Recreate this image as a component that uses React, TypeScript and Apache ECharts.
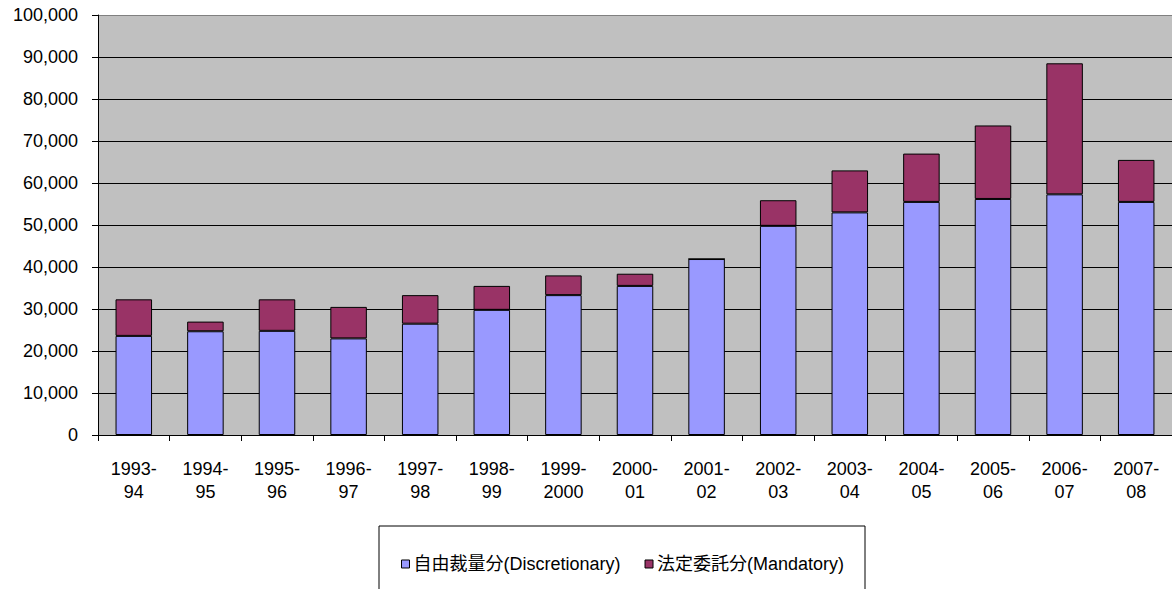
import React, { useEffect, useRef } from "react";
import * as echarts from "echarts";

const categories = [
  "1993-\n94", "1994-\n95", "1995-\n96", "1996-\n97", "1997-\n98", "1998-\n99",
  "1999-\n2000", "2000-\n01", "2001-\n02", "2002-\n03", "2003-\n04", "2004-\n05",
  "2005-\n06", "2006-\n07", "2007-\n08",
];
const discretionary = [
  23600, 24700, 24800, 23000, 26500, 29800, 33300, 35500, 41900, 49800, 53000, 55500, 56200, 57300, 55500,
];
const mandatory = [
  8700, 2300, 7500, 7500, 6800, 5700, 4700, 2900, 0, 6100, 10000, 11500, 17500, 31200, 10000,
];
const seriesNames = ["自由裁量分(Discretionary)", "法定委託分(Mandatory)"];

const FONT = '"Liberation Sans", Arial, "Noto Sans CJK JP", sans-serif';

export default function App() {
  const ref = useRef<HTMLDivElement>(null);
  useEffect(() => {
    document.body.style.margin = "0";
    document.body.style.overflow = "hidden";
    if (!ref.current) return;
    const chart = echarts.init(ref.current, undefined, { renderer: "svg" });
    const gridColors = ["#000", "#000", "#000", "#000", "#000", "#000", "#000", "#000", "#000", "#000", "#808080"];
    chart.setOption({
      animation: false,
      textStyle: { fontFamily: FONT },
      graphic: [
        {
          type: "rect",
          shape: { x: 379, y: 526, width: 486, height: 80 },
          style: { fill: "#ffffff", stroke: "#000000", lineWidth: 1 },
          z: 0,
        },
      ],
      legend: {
        data: seriesNames,
        top: 550,
        left: 396,
        itemWidth: 8,
        itemHeight: 8,
        itemGap: 24,
        icon: "rect",
        itemStyle: { borderColor: "#000", borderWidth: 1 },
        textStyle: { fontFamily: FONT, fontSize: 18, color: "#000", padding: [4, 0, 0, -1] },
        z: 5,
      },
      grid: { left: 98, right: 0, top: 15, bottom: 154, backgroundColor: "#C0C0C0", show: true, borderWidth: 0 },
      xAxis: {
        type: "category",
        data: categories,
        axisLine: { lineStyle: { color: "#000", width: 1 } },
        axisTick: { show: true, length: 6, lineStyle: { color: "#000" }, alignWithLabel: false },
        axisLabel: { fontFamily: FONT, fontSize: 18, color: "#000", margin: 22, lineHeight: 23, interval: 0 },
      },
      yAxis: {
        type: "value",
        min: 0,
        max: 100000,
        interval: 10000,
        axisLine: { show: true, lineStyle: { color: "#000", width: 1 } },
        axisTick: { show: true, length: 6, lineStyle: { color: "#000" } },
        splitLine: { show: true, lineStyle: { color: gridColors, width: 1 } },
        axisLabel: {
          fontFamily: FONT,
          fontSize: 18,
          color: "#000",
          margin: 20,
          formatter: (v: number) => v.toLocaleString("en-US"),
        },
      },
      series: [
        {
          name: seriesNames[0],
          type: "bar",
          stack: "total",
          data: discretionary,
          barWidth: "51%",
          itemStyle: { color: "#9999FF", borderColor: "#000", borderWidth: 1 },
        },
        {
          name: seriesNames[1],
          type: "bar",
          stack: "total",
          data: mandatory,
          barWidth: "51%",
          itemStyle: { color: "#993366", borderColor: "#000", borderWidth: 1 },
        },
      ],
    });
    return () => chart.dispose();
  }, []);
  return <div ref={ref} style={{ position: "absolute", left: 0, top: 0, width: 1172, height: 589 }} />;
}
